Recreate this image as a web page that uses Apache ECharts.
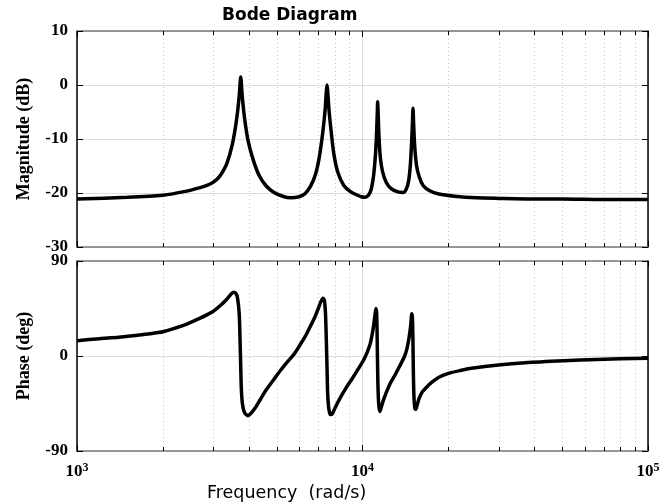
<!DOCTYPE html>
<html>
<head>
<meta charset="utf-8">
<script src="https://cdn.jsdelivr.net/npm/echarts@6/dist/echarts.min.js"></script>
<style>
  html, body { margin: 0; padding: 0; background: #fff; }
  #chart { width: 665px; height: 503px; }
</style>
</head>
<body>
<div id="chart"></div>
<script>
// magnitude curve (rad/s, dB)
const magFreq = [1000, 1500, 2000, 2400, 2700, 2850, 3000, 3100, 3200, 3350, 3500, 3620, 3700, 3745, 3790, 3870, 3980,
  4150, 4350, 4600, 4900, 5250, 5600, 6000, 6300, 6600, 6850, 7050, 7250, 7400, 7475, 7510, 7550, 7630,
  7780, 7950, 8200, 8600, 9100, 9600, 9900, 10200, 10450, 10650, 10800, 10950, 11100, 11200, 11270, 11300, 11340,
  11420, 11550, 11750, 12100, 12600, 13300, 13900, 14250, 14500, 14700, 14850, 14960, 15030, 15100,
  15220, 15450, 15800, 16300, 17200, 18500, 21000, 25000, 30000, 40000, 50000, 70000, 100000];
const magDb = [-21.1, -20.8, -20.4, -19.7, -19.0, -18.6, -18.0, -17.4, -16.5, -14.5, -11.0, -6.5, -2.0, 1.5, -2.0, -6.5, -10.5,
  -14.0, -16.8, -18.7, -19.9, -20.6, -20.9, -20.7, -20.1, -18.6, -16.5, -13.5, -9.0, -4.5, -1.0, 0.0, -1.0, -4.5,
  -9.0, -13.0, -16.2, -18.6, -19.8, -20.4, -20.7, -20.8, -20.5, -19.8, -18.6, -16.5, -13.0, -9.0, -5.0, -3.1, -5.0,
  -9.5, -13.5, -16.0, -18.0, -19.2, -19.8, -19.9, -19.2, -17.8, -15.0, -11.0, -7.0, -4.3, -7.0,
  -11.0, -14.8, -17.0, -18.6, -19.6, -20.2, -20.6, -20.9, -21.0, -21.1, -21.1, -21.2, -21.2];

// phase curve (rad/s, deg)
const phaseFreq = [1000, 1200, 1400, 1600, 1800, 2000, 2200, 2400, 2550, 2700, 2850, 3000, 3200, 3340, 3450, 3530, 3600, 3650, 3700, 3725,
  3745, 3765, 3800, 3860, 3960, 4060, 4200, 4375, 4600, 4875, 5150, 5420, 5750, 6040, 6300, 6550, 6800,
  7000, 7150, 7270, 7350, 7420, 7470, 7510, 7550, 7620, 7720, 7830, 8050, 8400, 8815, 9200, 9700,
  10100, 10400, 10650, 10900, 11050, 11140, 11210, 11260, 11310, 11380, 11470, 11560, 11800, 12100,
  12500, 13000, 13500, 14000, 14300, 14550, 14750, 14880, 14960, 15020, 15070, 15150, 15260, 15380,
  15550, 15800, 16200, 16700, 17500, 18450, 20000, 22000, 24100, 29900, 37100, 50700, 66000, 100000];
const phaseDeg = [14.5, 16.4, 17.8, 19.5, 21.1, 23.0, 26.3, 29.8, 32.8, 35.9, 39.0, 42.3, 48.5, 53.5, 58.0, 60.5, 59.5, 55.0, 40.0, 15.0,
  -10.0, -32.0, -46.0, -53.5, -56.5, -54.5, -49.5, -41.7, -32.0, -22.7, -14.0, -6.5, 1.5, 10.4, 18.5, 27.5, 36.5,
  45.0, 51.5, 54.7, 53.0, 40.0, 15.0, -10.0, -35.0, -50.0, -55.5, -55.0, -48.0, -38.5, -29.0, -21.5, -11.5,
  -3.5, 4.0, 12.0, 26.0, 38.0, 45.0, 40.0, 15.0, -20.0, -43.0, -52.5, -51.0, -43.0, -35.0,
  -26.0, -18.0, -9.5, -1.0, 6.5, 17.0, 29.0, 40.0, 36.0, 15.0, -15.0, -40.0, -50.0, -50.5,
  -46.0, -40.0, -34.0, -30.0, -24.8, -20.3, -16.5, -13.8, -11.7, -8.5, -6.3, -4.4, -3.2, -2.2];

// minor log ticks (2..9 per decade)
const minorTicks = [2000, 3000, 4000, 5000, 6000, 7000, 8000, 9000,
  20000, 30000, 40000, 50000, 60000, 70000, 80000, 90000];

const magTicks = { min: -30, max: 10, interval: 10 };
const phaseTicks = { min: -90, max: 90, interval: 90 };

const serif = 'Liberation Serif';
const sans = 'DejaVu Sans';

const chart = echarts.init(document.getElementById('chart'), null, { renderer: 'canvas' });

function pairs(xs, ys) {
  return xs.map((x, i) => [x, ys[i]]);
}

// dotted minor grid lines plus short inward ticks on top/bottom edges
function minorRender(params, api) {
  const cs = params.coordSys;
  const x = Math.round(api.coord([api.value(0), api.value(1)])[0]) + 0.5;
  return {
    type: 'group',
    children: [
      { type: 'line', shape: { x1: x, y1: cs.y, x2: x, y2: cs.y + cs.height },
        style: { stroke: '#c8c8c8', lineWidth: 1, lineDash: [1, 3] } },
      { type: 'line', shape: { x1: x, y1: cs.y, x2: x, y2: cs.y + 4 },
        style: { stroke: '#000', lineWidth: 1 } },
      { type: 'line', shape: { x1: x, y1: cs.y + cs.height - 4, x2: x, y2: cs.y + cs.height },
        style: { stroke: '#000', lineWidth: 1 } }
    ]
  };
}

function xAx(grid, pos, labels) {
  return {
    gridIndex: grid, type: 'log', logBase: 10, min: 1000, max: 100000, position: pos,
    axisLine: { show: true, onZero: false, lineStyle: { color: '#7a7a7a', width: 1.5 } },
    axisTick: { show: true, inside: true, length: 6, lineStyle: { color: '#000' } },
    splitLine: { show: pos === 'bottom', lineStyle: { color: '#dcdcdc', width: 1 } },
    axisLabel: labels ? {
      margin: 11,
      formatter: v => '{b|10}{s|' + Math.round(Math.log10(v)) + '}',
      rich: {
        b: { fontFamily: serif, fontWeight: 'bold', fontSize: 17, color: '#000', lineHeight: 20 },
        s: { fontFamily: serif, fontWeight: 'bold', fontSize: 12, color: '#000', lineHeight: 12, verticalAlign: 'top' }
      }
    } : { show: false }
  };
}

function yAx(grid, pos, ticks, name) {
  return {
    gridIndex: grid, type: 'value', position: pos,
    min: ticks.min, max: ticks.max, interval: ticks.interval,
    name: name || '', nameLocation: 'middle', nameGap: 44, nameRotate: 90,
    nameTextStyle: { fontFamily: serif, fontWeight: 'bold', fontSize: 18, color: '#000' },
    axisLine: { show: true, onZero: false, lineStyle: { color: '#000', width: 1.5 } },
    axisTick: { show: true, inside: true, length: 6, lineStyle: { color: '#000' } },
    splitLine: { show: pos === 'left', lineStyle: { color: '#dcdcdc', width: 1 } },
    axisLabel: pos === 'left' ? {
      margin: 9, fontFamily: serif, fontWeight: 'bold', fontSize: 17, color: '#000'
    } : { show: false }
  };
}

chart.setOption({
  animation: false,
  backgroundColor: '#fff',
  title: [
    { text: 'Bode Diagram', left: 222, top: 7, padding: 0,
      textStyle: { fontFamily: sans, fontWeight: 'bold', fontSize: 17, color: '#000' } },
    { text: 'Frequency  (rad/s)', left: 207, top: 484, padding: 0,
      textStyle: { fontFamily: sans, fontWeight: 'normal', fontSize: 17.5, color: '#000' } }
  ],
  grid: [
    { left: 77, right: 17, top: 31, height: 216 },
    { left: 77, right: 17, top: 261, height: 190 }
  ],
  xAxis: [
    xAx(0, 'bottom', false),
    xAx(0, 'top', false),
    xAx(1, 'bottom', true),
    xAx(1, 'top', false)
  ],
  yAxis: [
    yAx(0, 'left', magTicks, 'Magnitude (dB)'),
    yAx(0, 'right', magTicks),
    yAx(1, 'left', phaseTicks, 'Phase (deg)'),
    yAx(1, 'right', phaseTicks)
  ],
  series: [
    { type: 'custom', xAxisIndex: 0, yAxisIndex: 0, silent: true, z: 1,
      renderItem: minorRender, data: minorTicks.map(f => [f, 0]) },
    { type: 'custom', xAxisIndex: 2, yAxisIndex: 2, silent: true, z: 1,
      renderItem: minorRender, data: minorTicks.map(f => [f, 0]) },
    { name: 'Magnitude', type: 'line', xAxisIndex: 0, yAxisIndex: 0, z: 3,
      data: pairs(magFreq, magDb), showSymbol: false, smooth: 0.25,
      lineStyle: { color: '#000', width: 3.5 } },
    { name: 'Phase', type: 'line', xAxisIndex: 2, yAxisIndex: 2, z: 3,
      data: pairs(phaseFreq, phaseDeg), showSymbol: false, smooth: 0.25,
      lineStyle: { color: '#000', width: 3.5 } }
  ]
});
</script>
</body>
</html>
